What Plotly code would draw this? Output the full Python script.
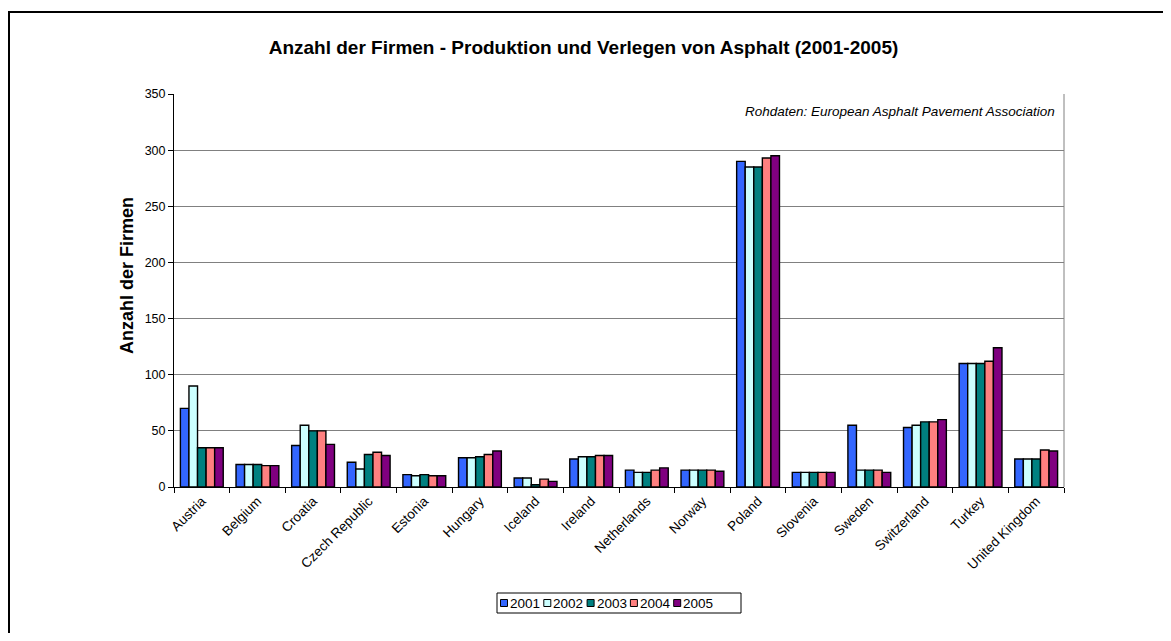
import plotly.graph_objects as go

countries = ["Austria", "Belgium", "Croatia", "Czech Republic", "Estonia", "Hungary",
             "Iceland", "Ireland", "Netherlands", "Norway", "Poland", "Slovenia",
             "Sweden", "Switzerland", "Turkey", "United Kingdom"]
years = ["2001", "2002", "2003", "2004", "2005"]
v2001 = [70, 20, 37, 22, 11, 26, 8, 25, 15, 15, 290, 13, 55, 53, 110, 25]
v2002 = [90, 20, 55, 16, 10, 26, 8, 27, 13, 15, 285, 13, 15, 55, 110, 25]
v2003 = [35, 20, 50, 29, 11, 27, 2, 27, 13, 15, 285, 13, 15, 58, 110, 25]
v2004 = [35, 19, 50, 31, 10, 29, 7, 28, 15, 15, 293, 13, 15, 58, 112, 33]
v2005 = [35, 19, 38, 28, 10, 32, 5, 28, 17, 14, 295, 13, 13, 60, 124, 32]
series = [v2001, v2002, v2003, v2004, v2005]
colors = ["#3366FF", "#CCFFFF", "#008080", "#FF8080", "#800080"]

OFF = 8  # page body margin
W, H = 1171 - 2 * OFF, 641 - 2 * OFF
# plot area in page pixel coordinates
PL, PR, PT, PB = 174, 1064, 94, 487
L, R, T, B = PL - OFF, PR - OFF, PT - OFF, PB - OFF

def px(x):  # page x -> paper
    return (x - PL) / (PR - PL)

def py(y):  # page y -> paper
    return (PB - y) / (PB - PT)

fig = go.Figure()
for name, vals, c in zip(years, series, colors):
    fig.add_trace(go.Bar(x=countries, y=vals, name=name, showlegend=False,
                         marker=dict(color=c, line=dict(color="black", width=1.4))))

shapes = [
    dict(type="line", xref="paper", yref="paper", x0=px(1064), x1=px(1064),
         y0=py(94), y1=py(487), line=dict(color="#808080", width=1)),
    dict(type="line", xref="paper", yref="paper", x0=px(8), x1=px(1300),
         y0=py(12), y1=py(12), line=dict(color="black", width=2)),
    dict(type="line", xref="paper", yref="paper", x0=px(9), x1=px(9),
         y0=py(11), y1=py(700), line=dict(color="black", width=2)),
    # legend box
    dict(type="rect", xref="paper", yref="paper", x0=px(497), x1=px(741),
         y0=py(593), y1=py(613), line=dict(color="black", width=1), fillcolor="white"),
]
annotations = [
    dict(text="<i>Rohdaten: European Asphalt Pavement Association</i>",
         xref="paper", yref="paper", x=px(1057), y=py(112),
         xanchor="right", yanchor="middle", showarrow=False, font=dict(size=13.5)),
    dict(text="<b>Anzahl der Firmen</b>", textangle=-90,
         xref="paper", yref="paper", x=px(127), y=py(276),
         xanchor="center", yanchor="middle", showarrow=False, font=dict(size=18)),
]
step = 43.3
for i, (name, c) in enumerate(zip(years, colors)):
    x0 = 500.5 + step * i
    shapes.append(dict(type="rect", xref="paper", yref="paper", x0=px(x0), x1=px(x0 + 7),
                       y0=py(599.5), y1=py(606.5), line=dict(color="black", width=1),
                       fillcolor=c))
    annotations.append(dict(text=name, xref="paper", yref="paper", x=px(x0 + 7.5),
                            y=py(603), xanchor="left", yanchor="middle", showarrow=False,
                            font=dict(size=13.5)))

fig.update_layout(
    width=W, height=H,
    margin=dict(l=L, r=W - R, t=T, b=H - B, autoexpand=False),
    paper_bgcolor="white", plot_bgcolor="white",
    font=dict(family="Liberation Sans, Arial, sans-serif", color="black", size=12),
    barmode="group", bargap=0.23, bargroupgap=0,
    showlegend=False,
    title=dict(text="<b>Anzahl der Firmen - Produktion und Verlegen von Asphalt (2001-2005)</b>",
               xref="paper", x=px(583.5), xanchor="center",
               yref="container", y=1 - (47 - OFF) / H, yanchor="middle",
               font=dict(size=19)),
    xaxis=dict(showline=True, linecolor="black", linewidth=1, ticks="outside",
               tickson="boundaries", ticklen=5, tickcolor="black", tickangle=-45,
               tickfont=dict(size=13.5), mirror=False, showgrid=False),
    yaxis=dict(range=[0, 350], dtick=50, showline=True, linecolor="black", linewidth=1,
               ticks="outside", ticklen=5, tickcolor="black", showgrid=True,
               gridcolor="#808080", gridwidth=1, tickfont=dict(size=12.5),
               zeroline=False),
    annotations=annotations,
    shapes=shapes,
)

fig.write_html("out.html")
